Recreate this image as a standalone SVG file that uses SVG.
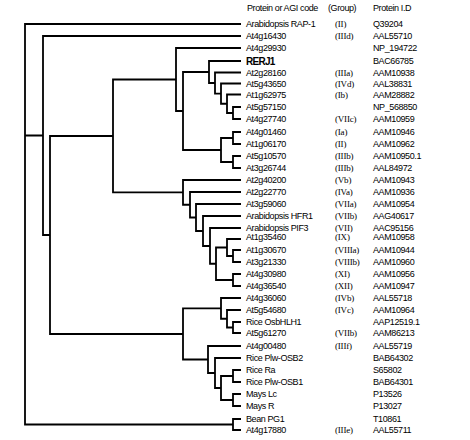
<svg xmlns="http://www.w3.org/2000/svg" width="470" height="440" viewBox="0 0 470 440">
<style>
.t{font-family:"Liberation Sans",Arial,sans-serif;font-size:9px;fill:#000;letter-spacing:-0.4px}
.g{font-family:"Liberation Serif","Times New Roman",serif;font-size:9px;fill:#000;letter-spacing:-0.2px}
.b{font-family:"Liberation Sans",Arial,sans-serif;font-size:10px;font-weight:bold;fill:#000;letter-spacing:-0.7px}
.e{fill:none;stroke:#000;stroke-width:1.8;stroke-linejoin:miter}
</style>
<rect width="470" height="440" fill="#fff"/>
<g id="header">
<text class="t" x="247" y="11">Protein or AGI code</text>
<text class="t" x="328" y="11">(Group)</text>
<text class="t" x="373" y="11">Protein I.D</text>
</g>
<g id="connectors">
<path class="e" d="M241 24 H25 V424.5 H233 M25 135.5 H43"/>
<path class="e" d="M241 36 H43 V235 H50"/>
<path class="e" d="M113 136 H50 V334 H183"/>
<path class="e" d="M176 79.5 H113 V192.4 H183"/>
<path class="e" d="M241 48 H176 V111 H183"/>
<path class="e" d="M209 72 H183 V150 H221"/>
<path class="e" d="M241 61 H209 V83 H215"/>
<path class="e" d="M241 72.5 H215 V93.6 H221"/>
<path class="e" d="M241 83.5 H221 V103.75 H227"/>
<path class="e" d="M241 94.5 H227 V113 H233"/>
<path class="e" d="M241 107 H233 V119 H241"/>
<path class="e" d="M233 138 H221 V162 H233"/>
<path class="e" d="M241 132 H233 V144 H241"/>
<path class="e" d="M241 156 H233 V168 H241"/>
<path class="e" d="M241 180 H183 V204.75 H190"/>
<path class="e" d="M241 192 H190 V217.5 H196"/>
<path class="e" d="M241 204 H196 V231 H203"/>
<path class="e" d="M241 216 H203 V246 H210"/>
<path class="e" d="M241 228 H210 V263.75 H216"/>
<path class="e" d="M227 247.5 H216 V280 H233"/>
<path class="e" d="M241 239 H227 V256 H233"/>
<path class="e" d="M241 250 H233 V262 H241"/>
<path class="e" d="M241 274 H233 V286 H241"/>
<path class="e" d="M221 308.4 H183 V359.5 H208"/>
<path class="e" d="M241 298 H221 V318.75 H227"/>
<path class="e" d="M241 310 H227 V327.5 H233"/>
<path class="e" d="M241 322 H233 V333 H241"/>
<path class="e" d="M241 346 H208 V373 H215"/>
<path class="e" d="M241 358 H215 V388 H221"/>
<path class="e" d="M233 376 H221 V400 H233"/>
<path class="e" d="M241 370 H233 V382 H241"/>
<path class="e" d="M241 394 H233 V406 H241"/>
<path class="e" d="M241 419 H233 V430 H241"/>
</g>
<g id="rap1"><text class="t" x="246" y="27">Arabidopsis RAP-1</text><text class="g" x="335" y="27">(II)</text><text class="t" x="373" y="27">Q39204</text></g>
<g id="at4g16430"><text class="t" x="246" y="39">At4g16430</text><text class="g" x="335" y="39">(IIId)</text><text class="t" x="373" y="39">AAL55710</text></g>
<g id="at4g29930"><text class="t" x="246" y="51">At4g29930</text><text class="t" x="373" y="51">NP_194722</text></g>
<g id="rerj1"><text class="b" x="246" y="64.5">RERJ1</text><text class="t" x="373" y="64">BAC66785</text></g>
<g id="at2g28160"><text class="t" x="246" y="75.5">At2g28160</text><text class="g" x="335" y="75.5">(IIIa)</text><text class="t" x="373" y="75.5">AAM10938</text></g>
<g id="at5g43650"><text class="t" x="246" y="86.5">At5g43650</text><text class="g" x="335" y="86.5">(IVd)</text><text class="t" x="373" y="86.5">AAL38831</text></g>
<g id="at1g62975"><text class="t" x="246" y="97.5">At1g62975</text><text class="g" x="335" y="97.5">(Ib)</text><text class="t" x="373" y="97.5">AAM28882</text></g>
<g id="at5g57150"><text class="t" x="246" y="110">At5g57150</text><text class="t" x="373" y="110">NP_568850</text></g>
<g id="at4g27740"><text class="t" x="246" y="122">At4g27740</text><text class="g" x="335" y="122">(VIIc)</text><text class="t" x="373" y="122">AAM10959</text></g>
<g id="at4g01460"><text class="t" x="246" y="135">At4g01460</text><text class="g" x="335" y="135">(Ia)</text><text class="t" x="373" y="135">AAM10946</text></g>
<g id="at1g06170"><text class="t" x="246" y="147">At1g06170</text><text class="g" x="335" y="147">(II)</text><text class="t" x="373" y="147">AAM10962</text></g>
<g id="at5g10570"><text class="t" x="246" y="159">At5g10570</text><text class="g" x="335" y="159">(IIIb)</text><text class="t" x="373" y="159">AAM10950.1</text></g>
<g id="at3g26744"><text class="t" x="246" y="171">At3g26744</text><text class="g" x="335" y="171">(IIIb)</text><text class="t" x="373" y="171">AAL84972</text></g>
<g id="at2g40200"><text class="t" x="246" y="183">At2g40200</text><text class="g" x="335" y="183">(Vb)</text><text class="t" x="373" y="183">AAM10943</text></g>
<g id="at2g22770"><text class="t" x="246" y="195">At2g22770</text><text class="g" x="335" y="195">(IVa)</text><text class="t" x="373" y="195">AAM10936</text></g>
<g id="at3g59060"><text class="t" x="246" y="207">At3g59060</text><text class="g" x="335" y="207">(VIIa)</text><text class="t" x="373" y="207">AAM10954</text></g>
<g id="hfr1"><text class="t" x="246" y="219">Arabidopsis HFR1</text><text class="g" x="335" y="219">(VIIb)</text><text class="t" x="373" y="219">AAG40617</text></g>
<g id="pif3"><text class="t" x="246" y="231">Arabidopsis PIF3</text><text class="g" x="335" y="231">(VII)</text><text class="t" x="373" y="231">AAC95156</text></g>
<g id="at1g35460"><text class="t" x="246" y="240">At1g35460</text><text class="g" x="335" y="240">(IX)</text><text class="t" x="373" y="240">AAM10958</text></g>
<g id="at1g30670"><text class="t" x="246" y="253">At1g30670</text><text class="g" x="335" y="253">(VIIIa)</text><text class="t" x="373" y="253">AAM10944</text></g>
<g id="at3g21330"><text class="t" x="246" y="265">At3g21330</text><text class="g" x="335" y="265">(VIIIb)</text><text class="t" x="373" y="265">AAM10960</text></g>
<g id="at4g30980"><text class="t" x="246" y="277">At4g30980</text><text class="g" x="335" y="277">(XI)</text><text class="t" x="373" y="277">AAM10956</text></g>
<g id="at4g36540"><text class="t" x="246" y="289">At4g36540</text><text class="g" x="335" y="289">(XII)</text><text class="t" x="373" y="289">AAM10947</text></g>
<g id="at4g36060"><text class="t" x="246" y="301">At4g36060</text><text class="g" x="335" y="301">(IVb)</text><text class="t" x="373" y="301">AAL55718</text></g>
<g id="at5g54680"><text class="t" x="246" y="313">At5g54680</text><text class="g" x="335" y="313">(IVc)</text><text class="t" x="373" y="313">AAM10964</text></g>
<g id="osbhlh1"><text class="t" x="246" y="325">Rice OsbHLH1</text><text class="t" x="373" y="325">AAP12519.1</text></g>
<g id="at5g61270"><text class="t" x="246" y="336">At5g61270</text><text class="g" x="335" y="336">(VIIb)</text><text class="t" x="373" y="336">AAM86213</text></g>
<g id="at4g00480"><text class="t" x="246" y="349">At4g00480</text><text class="g" x="335" y="349">(IIIf)</text><text class="t" x="373" y="349">AAL55719</text></g>
<g id="osb2"><text class="t" x="246" y="361">Rice Plw-OSB2</text><text class="t" x="373" y="361">BAB64302</text></g>
<g id="ricera"><text class="t" x="246" y="373">Rice Ra</text><text class="t" x="373" y="373">S65802</text></g>
<g id="osb1"><text class="t" x="246" y="385">Rice Plw-OSB1</text><text class="t" x="373" y="385">BAB64301</text></g>
<g id="mayslc"><text class="t" x="246" y="397">Mays Lc</text><text class="t" x="373" y="397">P13526</text></g>
<g id="maysr"><text class="t" x="246" y="409">Mays R</text><text class="t" x="373" y="409">P13027</text></g>
<g id="beanpg1"><text class="t" x="246" y="422">Bean PG1</text><text class="t" x="373" y="422">T10861</text></g>
<g id="at4g17880"><text class="t" x="246" y="433">At4g17880</text><text class="g" x="335" y="433">(IIIe)</text><text class="t" x="373" y="433">AAL55711</text></g>
</svg>
